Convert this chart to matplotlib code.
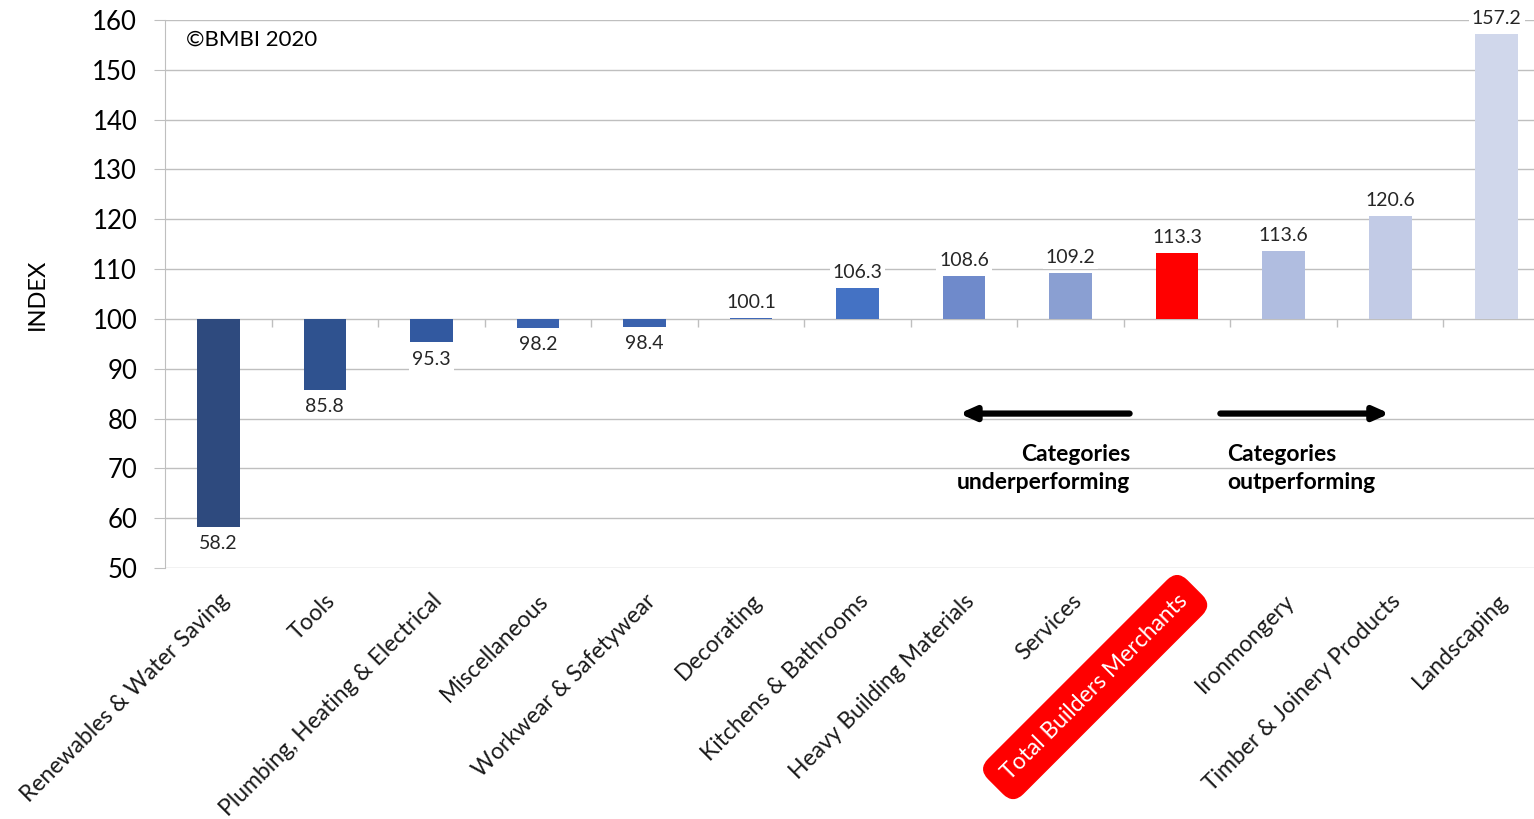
"""
Builders merchants category index chart
"""
import matplotlib
matplotlib.use('Agg')
import matplotlib.pyplot as plt

categories = ['Renewables & Water Saving', 'Tools', 'Plumbing, Heating & Electrical',
              'Miscellaneous', 'Workwear & Safetywear', 'Decorating',
              'Kitchens & Bathrooms', 'Heavy Building Materials', 'Services',
              'Total Builders Merchants', 'Ironmongery', 'Timber & Joinery Products',
              'Landscaping']
values = [58.2, 85.8, 95.3, 98.2, 98.4, 100.1, 106.3, 108.6, 109.2, 113.3, 113.6, 120.6, 157.2]
bar_colors = ['#2E4A7E', '#2F528F', '#3259A0', '#3A62AE', '#3A62AE', '#4068B8',
              '#4472C4', '#6F8ACB', '#8A9FD2', '#FF0000', '#B0BDE0', '#C2CBE6', '#D0D7EB']
highlight = 'Total Builders Merchants'

plt.rcParams['font.family'] = ['Lato', 'DejaVu Sans']

fig = plt.figure(figsize=(15.34, 8.19), dpi=100)
ax = fig.add_axes([165/1534, 1-568/819, 1385/1534, 548/819])

x = list(range(len(categories)))
heights = [v - 100 for v in values]
ax.bar(x, heights, bottom=100, width=0.4, color=bar_colors, zorder=3)

ax.set_xlim(-0.5, len(categories) - 0.5)
ax.set_ylim(50, 160)
ax.set_yticks(range(50, 161, 10))
ax.yaxis.grid(True, color='#BFBFBF', lw=1, zorder=0)
ax.tick_params(axis='y', labelsize=18.5, length=8, color='#BFBFBF', pad=12)
for s in ['top', 'right', 'bottom']:
    ax.spines[s].set_visible(False)
ax.spines['left'].set_color('#BFBFBF')
ax.set_ylabel('INDEX', fontsize=17, labelpad=32)

# category separators on the 100 line
ax.vlines([i + 0.5 for i in x[:-1]], 98.4, 100, color='#BFBFBF', lw=1, zorder=2)

ax.set_xticks(x)
ax.set_xticklabels(categories, rotation=45, ha='right', rotation_mode='anchor', fontsize=16.5)
ax.tick_params(axis='x', length=0, pad=16)
for lab in ax.get_xticklabels():
    lab.set_color('#1A1A1A')
    if lab.get_text() == highlight:
        lab.set_color('white')
        lab.set_bbox(dict(boxstyle='round,pad=0.6,rounding_size=0.6', fc='#FF0000', ec='#FF0000'))

# value labels
for xi, v in zip(x, values):
    up = v >= 100
    ax.annotate(f'{v:.1f}', (xi, v), xytext=(0, 5 if up else -6), textcoords='offset points',
                ha='center', va='bottom' if up else 'top', fontsize=14, color='#262626',
                bbox=dict(boxstyle='square,pad=0.15', fc='white', ec='none'), zorder=4)

ax.text(0.015, 0.982, '\u00a9BMBI 2020', transform=ax.transAxes, fontsize=16,
        ha='left', va='top')

# direction arrows
ax.annotate('', xy=(6.93, 81), xytext=(8.58, 81),
            arrowprops=dict(arrowstyle='-|>,head_length=0.9,head_width=0.4', lw=4.5, color='black'))
ax.annotate('', xy=(11.02, 81), xytext=(9.38, 81),
            arrowprops=dict(arrowstyle='-|>,head_length=0.9,head_width=0.4', lw=4.5, color='black'))
ax.text(8.56, 70, 'Categories\nunderperforming', ha='right', va='center', fontsize=16.5,
        fontweight='bold', linespacing=1.45)
ax.text(9.47, 70, 'Categories\noutperforming', ha='left', va='center', fontsize=16.5,
        fontweight='bold', linespacing=1.45)

fig.savefig('out.png', dpi=100)
